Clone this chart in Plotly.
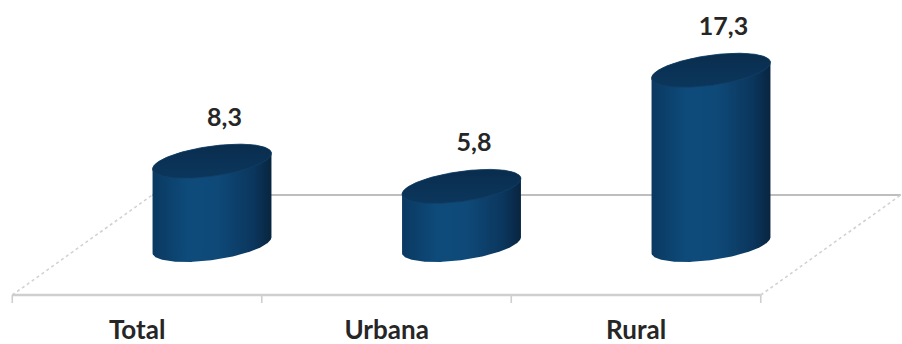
import numpy as np
import plotly.graph_objects as go

# ---- data ----
categories = ["Total", "Urbana", "Rural"]
values = [8.3, 5.8, 17.3]
value_labels = ["8,3", "5,8", "17,3"]

# ---- geometry (pixel scale of the axes) ----
W, H = 902, 344
PX_PER_X = 249.5
PX_PER_Y = 10.1
X0_PX = 212
Y0_PX = 245
x_range = [-X0_PX / PX_PER_X, (W - X0_PX) / PX_PER_X]
y_range = [(Y0_PX - H) / PX_PER_Y, Y0_PX / PX_PER_Y]

A, B, TH = 60.0, 15.0, np.deg2rad(-8)
T0 = np.arctan(-B * np.sin(TH) / (A * np.cos(TH)))
DEPTH_X = 70 / PX_PER_X
DEPTH_Y = 50 / PX_PER_Y


def ellipse(cx, cy, t):
    ex = A * np.cos(t) * np.cos(TH) - B * np.sin(t) * np.sin(TH)
    ey = A * np.cos(t) * np.sin(TH) + B * np.sin(t) * np.cos(TH)
    return cx + ex / PX_PER_X, cy - ey / PX_PER_Y


fig = go.Figure()

# ---- floor ----
xs = np.arange(len(categories))
fl = xs[0] - 0.52 - DEPTH_X
fr = xs[-1] + 0.48 - DEPTH_X
bl = xs[0] - 0.52 + DEPTH_X
br = xs[-1] + 0.48 + DEPTH_X
yf, yb = -DEPTH_Y, DEPTH_Y
shapes = [
    dict(type="line", x0=bl, y0=yb, x1=br, y1=yb, line=dict(color="#a8a8a8", width=1.6), layer="below"),
    dict(type="line", x0=fl, y0=yf, x1=bl, y1=yb, line=dict(color="#d2d2d2", width=1.6, dash="dot"), layer="below"),
    dict(type="line", x0=fr, y0=yf, x1=br, y1=yb, line=dict(color="#d2d2d2", width=1.6, dash="dot"), layer="below"),
    dict(type="line", x0=fl, y0=yf, x1=fr, y1=yf, line=dict(color="#cfcfcf", width=2.6), layer="below"),
]
step = (fr - fl) / len(categories)
for k in range(len(categories) + 1):
    xt = fl + k * step
    shapes.append(dict(type="line", x0=xt, y0=yf, x1=xt, y1=yf - 8 / PX_PER_Y,
                       line=dict(color="#cfcfcf", width=1.6), layer="below"))

# ---- cylinders ----
body_scale = [[0, "#0a3961"], [0.3, "#0e4b7b"], [0.55, "#0e4978"], [0.85, "#0b365d"], [1, "#08253f"]]
top_scale = [[0, "#0b365b"], [0.5, "#0a3256"], [1, "#092c4c"]]
for i, v in enumerate(values):
    cx = xs[i]
    tb = np.linspace(T0, T0 + np.pi, 120)
    tt = np.linspace(T0 + np.pi, T0 + 2 * np.pi, 120)
    bx, by = ellipse(cx, 0.0, tb)
    tx, ty = ellipse(cx, v, tt)
    px = np.concatenate([bx, tx, bx[:1]])
    py = np.concatenate([by, ty, by[:1]])
    fig.add_trace(go.Scatter(x=px, y=py, mode="lines", fill="toself",
                             line=dict(width=0, color="#0b3a62"),
                             fillgradient=dict(type="horizontal", colorscale=body_scale),
                             hoverinfo="skip"))
    ta = np.linspace(0, 2 * np.pi, 200)
    ex, ey = ellipse(cx, v, ta)
    fig.add_trace(go.Scatter(x=ex, y=ey, mode="lines", fill="toself",
                             line=dict(width=0.8, color="#123f66"),
                             fillgradient=dict(type="vertical", colorscale=top_scale),
                             hoverinfo="skip"))

# ---- value labels ----
fig.add_trace(go.Scatter(x=xs + 0.05, y=np.array(values) + 4.1, mode="text", text=value_labels,
                         textfont=dict(family="Lato", size=25, color="#262626", weight="bold"),
                         hoverinfo="skip"))
# ---- category labels ----
fig.add_trace(go.Scatter(x=xs - 0.30, y=[(Y0_PX - 332) / PX_PER_Y] * len(categories), mode="text",
                         text=categories,
                         textfont=dict(family="Lato", size=26, color="#262626", weight="bold"),
                         hoverinfo="skip"))

fig.update_layout(
    width=W, height=H, margin=dict(l=0, r=0, t=0, b=0),
    paper_bgcolor="white", plot_bgcolor="white", showlegend=False,
    shapes=shapes,
    xaxis=dict(range=x_range, visible=False, fixedrange=True),
    yaxis=dict(range=y_range, visible=False, fixedrange=True),
)
fig.write_html("out.html")
